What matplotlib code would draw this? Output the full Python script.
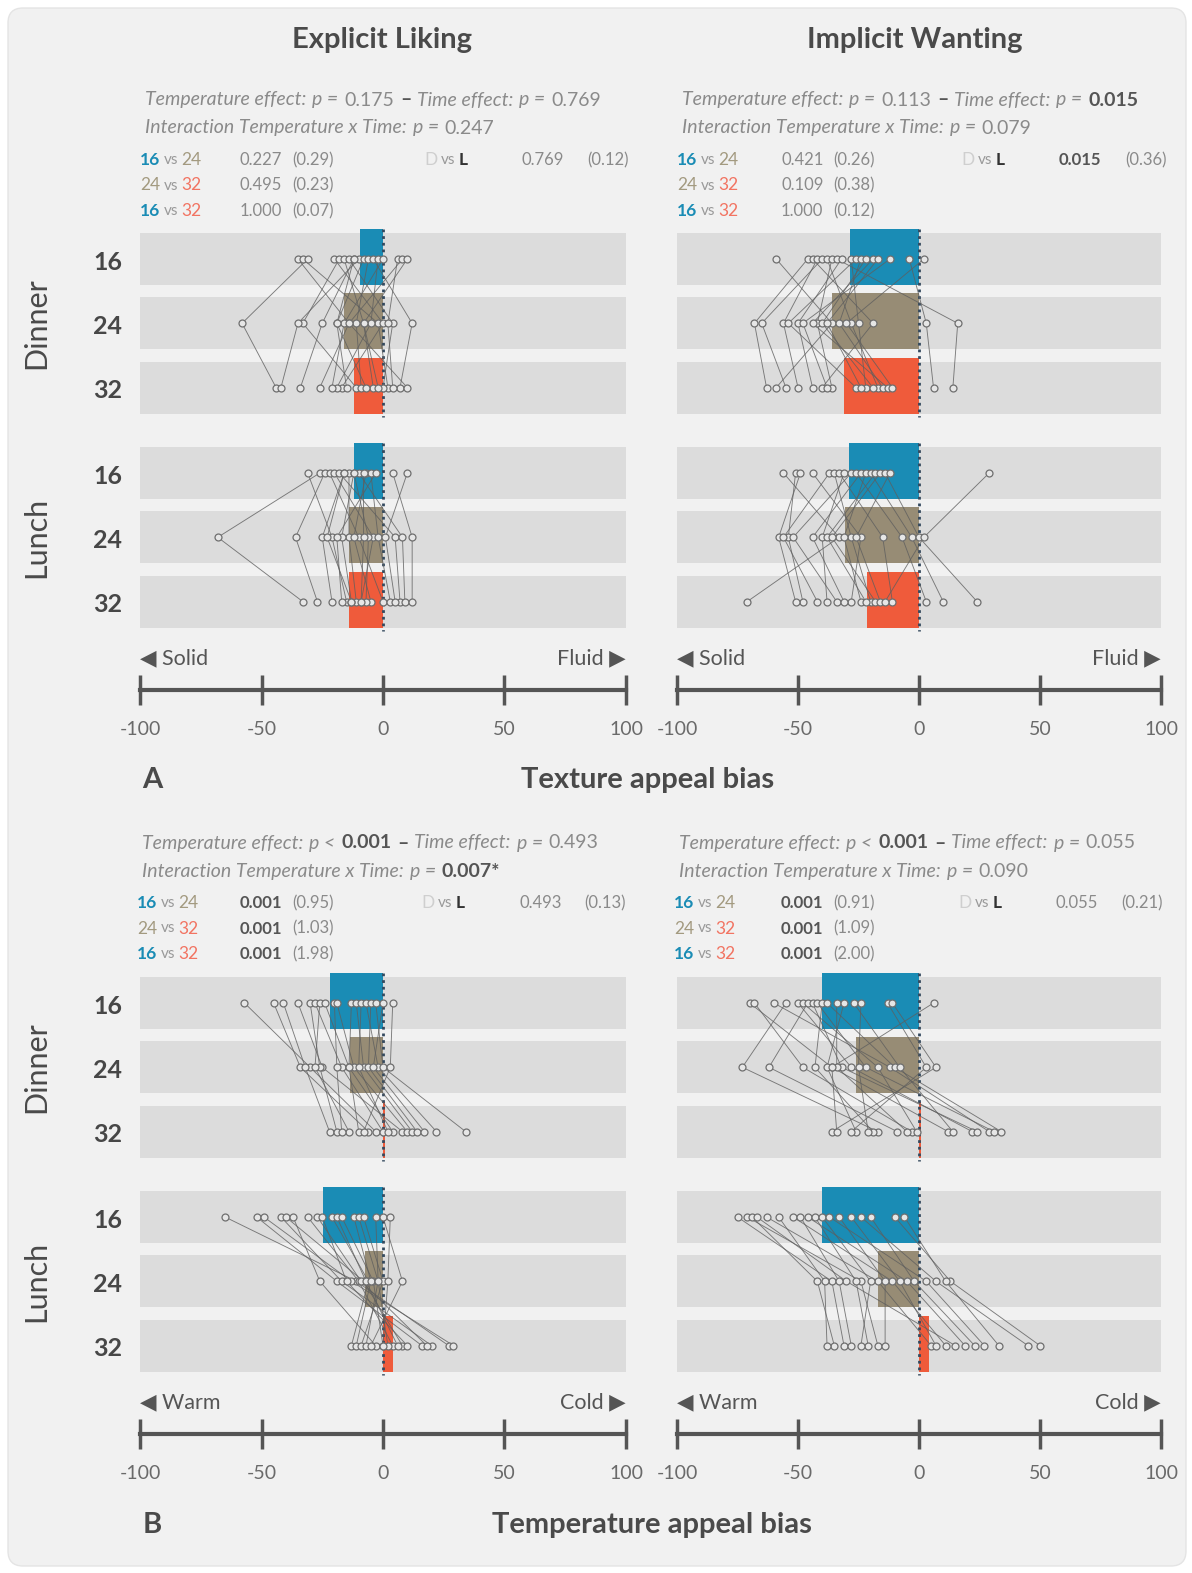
import numpy as np
import matplotlib
matplotlib.use("Agg")
import matplotlib.pyplot as plt
from matplotlib.patches import FancyBboxPatch

plt.rcParams['font.family'] = ['Lato', 'DejaVu Sans']

W, H = 1192, 1573

# Conditions ------------------------------------------------->>>>>
temps = ["16", "24", "32"]
times = ["Dinner", "Lunch"]
pairs = [(0, 1), (1, 2), (0, 2)]

# Texture appeal bias - explicit liking (rows: 16, 24, 32; columns: participants)
tex_like_dinner = [
    [-35, -33, -31, -20, -18, -16, -14, -12, -10, -8, -6, -4, -2, 0, 6, 8, 10, -12],
    [-14, -2, -58, 0, -33, -8, 4, -25, -35, -19, -11, 12, -5, -16, 2, -14, -8, -19],
    [-26, 2, -44, -17, -11, -4, 0, -34, -42, -15, -9, 7, -19, -21, 4, 10, -2, -7],
]
tex_like_lunch = [
    [-26, -31, -24, -22, -20, -18, -16, -14, -12, -10, -7, -5, -3, 4, 10, -12, -8, -16],
    [-68, -21, -36, -10, -4, 5, -25, -14, -17, 8, -12, -2, -19, 12, 1, -6, -8, -23],
    [-33, -15, -27, 0, -9, 7, -21, -11, -13, 9, -5, 3, -17, 12, 5, -7, -9, -13],
]
tex_like_mean_dinner = [-9.5, -16, -12]
tex_like_mean_lunch = [-12, -14, -14]

# Texture appeal bias - implicit wanting
tex_want_dinner = [
    [-59, -46, -44, -42, -40, -38, -36, -34, -32, -28, -26, -24, -22, -19, -17, -4, 2, -12],
    [-36, -68, -19, -56, -65, -28, -42, 16, -50, -25, -54, -33, -40, -44, -38, 3, -30, -48],
    [-59, -63, -40, -50, -55, -17, -36, 14, -44, -22, -26, -15, -19, -13, -24, 6, -11, -38],
]
tex_want_lunch = [
    [-56, -51, -49, -44, -37, -35, -33, -31, -28, -26, -24, -22, -20, -18, -16, -14, -12, 29],
    [-33, -54, -58, -24, -56, -28, -15, -40, -52, -7, -44, -31, -3, -38, -36, 0, -26, 2],
    [-71, -48, -51, -28, -42, -20, -11, -38, -34, 3, -31, -24, 10, -22, -18, 24, -16, -14],
]
tex_want_mean_dinner = [-28.5, -36, -31]
tex_want_mean_lunch = [-29, -30.5, -21.5]

# Temperature appeal bias - explicit liking
temp_like_dinner = [
    [-57, -45, -41, -35, -30, -28, -26, -24, -20, -19, -13, -11, -9, -7, -5, -3, 0, 4],
    [-30, -34, -32, -25, -26, -17, -28, -14, -19, -12, -14, -8, -10, -2, -6, 0, -4, 3],
    [-3, -6, -22, 8, -19, 0, -14, 4, -17, 10, -10, 12, 2, 22, 14, 34, 17, -8],
]
temp_like_lunch = [
    [-65, -52, -49, -42, -40, -37, -31, -27, -25, -21, -19, -17, -12, -10, -8, -3, 0, 3],
    [-11, -19, -13, -17, -8, -26, -10, -9, -15, -6, -7, -4, -5, -2, 0, -2, 8, 2],
    [27, 16, 29, 20, 8, -3, 4, 18, 10, -13, 6, 0, -11, 2, -9, -7, -5, 0],
]
temp_like_mean_dinner = [-22, -13.5, 1]
temp_like_mean_lunch = [-24.5, -7.5, 4]

# Temperature appeal bias - implicit wanting
temp_want_dinner = [
    [-70, -68, -60, -55, -50, -48, -46, -44, -42, -40, -38, -34, -31, -27, -24, -13, -11, 6],
    [-36, -48, -12, -73, -28, -17, -62, -32, -22, -43, -10, -34, -38, -8, -25, 3, 7, -36],
    [12, -3, 29, -17, 22, -1, -9, 24, 31, -19, 34, -5, -26, 14, -21, -28, -36, -34],
]
temp_want_lunch = [
    [-75, -71, -69, -67, -63, -58, -52, -49, -46, -43, -40, -37, -33, -28, -24, -20, -10, -6],
    [-36, -24, -42, -30, -17, -39, -11, -33, -5, -26, -20, 3, -14, -8, 7, -2, 13, 11],
    [-31, -17, -35, 15, 5, -38, 11, -28, 19, -21, -24, 27, -14, 7, 45, 23, 50, 33],
]
temp_want_mean_dinner = [-40, -26, 1]
temp_want_mean_lunch = [-40, -17, 4]

# Statistics: ANOVA (temperature, time, interaction) and post-hoc p (effect size)
tex_like_anova = [("=", 0.175), ("=", 0.769), ("=", 0.247)]
tex_like_post_p = [0.227, 0.495, 1.000]
tex_like_post_d = [0.29, 0.23, 0.07]
tex_like_time = (0.769, 0.12)

tex_want_anova = [("=", 0.113), ("=", 0.015), ("=", 0.079)]
tex_want_post_p = [0.421, 0.109, 1.000]
tex_want_post_d = [0.26, 0.38, 0.12]
tex_want_time = (0.015, 0.36)

temp_like_anova = [("<", 0.001), ("=", 0.493), ("=", 0.007)]
temp_like_post_p = [0.001, 0.001, 0.001]
temp_like_post_d = [0.95, 1.03, 1.98]
temp_like_time = (0.493, 0.13)

temp_want_anova = [("<", 0.001), ("=", 0.055), ("=", 0.090)]
temp_want_post_p = [0.001, 0.001, 0.001]
temp_want_post_d = [0.91, 1.09, 2.00]
temp_want_time = (0.055, 0.21)

# Style ------------------------------------------------------->>>>>
temp_cols = ['#1a8cb5', '#978c75', '#ef5b3b']
temp_txt = ['#1a8cb5', '#a39a80', '#f27462']
band_col = '#dcdcdc'
bg_col = '#f1f1f1'

band_h = 52
step = 64.3
group_off = 214
axis_off = 457

fig = plt.figure(figsize=(W / 100, H / 100), dpi=100, facecolor='white')
fig.patches.append(FancyBboxPatch((0.08, 0.07), 11.78, 15.58,
                                  boxstyle="round,pad=0,rounding_size=0.15",
                                  transform=fig.dpi_scale_trans,
                                  fc=bg_col, ec='#e4e4e4', lw=1, zorder=-10))
renderer = fig.canvas.get_renderer()


def ftext(x, y, s, **kw):
    return fig.text(x / W, 1 - y / H, s, **kw)


def runs(x, y, parts, size, gap=0.28):
    # draw pieces of text one after the other, each with its own style
    for s, kw in parts:
        opts = dict(fontsize=size, va='center', ha='left')
        opts.update(kw)
        t = ftext(x, y, s, **opts)
        x += t.get_window_extent(renderer).width + gap * size * 100 / 72
    return x


def draw_panel(x0, x1, top, dinner, lunch, mean_d, mean_l, words, label_rows):
    ax = fig.add_axes([x0 / W, 1 - (top + axis_off) / H, (x1 - x0) / W, (axis_off + 10) / H])
    ax.set_xlim(-100, 100)
    ax.set_ylim(top + axis_off, top - 10)
    ax.patch.set_alpha(0)
    for sp in ['top', 'left', 'right']:
        ax.spines[sp].set_visible(False)
    ax.spines['bottom'].set_color('#555555')
    ax.spines['bottom'].set_linewidth(3)
    ax.set_xticks([-100, -50, 0, 50, 100])
    ax.set_xticklabels(['-100', '-50', '0', '50', '100'])
    ax.tick_params(axis='x', direction='inout', length=22, width=2.5, color='#555555',
                   labelsize=14, labelcolor='#6a6a6a', pad=11)
    ax.set_yticks([])

    for g, (vals, means) in enumerate([(dinner, mean_d), (lunch, mean_l)]):
        gtop = top + g * group_off
        ys = [gtop + band_h / 2 + i * step for i in range(3)]
        for i, y in enumerate(ys):
            ax.axhspan(y - band_h / 2, y + band_h / 2, color=band_col, lw=0, zorder=1)
            ax.barh(y - 2, means[i], height=band_h + 4, left=0, color=temp_cols[i], lw=0,
                    zorder=2)
        ax.vlines(0, gtop - 4, ys[-1] + band_h / 2 + 3, colors='#34495e',
                  linestyles=(0, (1, 1.4)), lw=2, zorder=3)
        arr = np.array(vals, dtype=float)
        for k in range(arr.shape[1]):
            ax.plot(arr[:, k], ys, color='#5e5e5e', lw=0.65, alpha=0.8, zorder=4)
        for i, y in enumerate(ys):
            ax.plot(arr[i], [y] * arr.shape[1], 'o', ms=5, mfc='#e6e6e6', mec='#6e6e6e',
                    mew=0.9, zorder=5, clip_on=False)
        if label_rows:
            for i, y in enumerate(ys):
                ftext(108, y + 3, temps[i], fontsize=18, weight='bold', color='#474747',
                      ha='center', va='center')
            ftext(36, ys[1], times[g], fontsize=22, color='#4a4a4a', rotation=90,
                  ha='center', va='center')

    ax.text(-100, top + 425, "\u25c0 " + words[0], fontsize=15.5, color='#555555',
            ha='left', va='center')
    ax.text(100, top + 425, words[1] + " \u25b6", fontsize=15.5, color='#555555',
            ha='right', va='center')
    return ax


def fmt_p(p):
    return "%.3f" % p


def draw_stats(x, y, anova, post_p, post_d, time_pd, p_dx):
    gray = '#8a8a8a'
    it = dict(style='italic', color=gray)
    up = dict(color=gray)
    bold = dict(weight='bold', color='#555555')

    def pval(sign, p):
        txt = fmt_p(p) + ("*" if p < 0.01 and sign == "=" else "")
        return [("p %s" % sign, it), (txt, bold if p < 0.05 else up)]

    line1 = [("Temperature effect:", it)] + pval(*anova[0]) + [("\u2013", bold)] \
        + [("Time effect:", it)] + pval(*anova[1])
    runs(x + 5, y, line1, 14, gap=0.3)
    line2 = [("Interaction Temperature x Time:", it)] + pval(*anova[2])
    runs(x + 5, y + 28, line2, 14, gap=0.3)

    for r, (a, b) in enumerate(pairs):
        yy = y + 60 + r * 25.5
        runs(x, yy, [(temps[a], dict(color=temp_txt[a], weight='bold' if a == 0 else 'normal')),
                     ("vs", dict(color='#999999', fontsize=11)),
                     (temps[b], dict(color=temp_txt[b]))], 12.5, gap=0.2)
        p = post_p[r]
        runs(x + p_dx, yy, [(fmt_p(p), bold if p < 0.05 else up),
                            ("(%.2f)" % post_d[r], dict(color=gray))], 12, gap=0.6)

    yy = y + 60
    runs(x + 284, yy, [("D", dict(color='#cfcfcf')), ("vs", dict(color='#999999', fontsize=11)),
                       ("L", dict(color='#333333', weight='bold'))], 12.5, gap=0.2)
    p, d = time_pd
    runs(x + 382, yy, [(fmt_p(p), bold if p < 0.05 else up),
                       ("(%.2f)" % d, dict(color=gray))], 12, gap=1.4)


# Column titles
ftext(382, 40, "Explicit Liking", fontsize=21, weight='bold', color='#4a4a4a',
      ha='center', va='center')
ftext(915, 40, "Implicit Wanting", fontsize=21, weight='bold', color='#4a4a4a',
      ha='center', va='center')

# A: texture ---------------------------------------------------->>>>>
top_a = 233
draw_panel(140, 626, top_a, tex_like_dinner, tex_like_lunch,
           tex_like_mean_dinner, tex_like_mean_lunch, ("Solid", "Fluid"), True)
draw_panel(677, 1161, top_a, tex_want_dinner, tex_want_lunch,
           tex_want_mean_dinner, tex_want_mean_lunch, ("Solid", "Fluid"), False)
draw_stats(140, 100, tex_like_anova, tex_like_post_p, tex_like_post_d, tex_like_time, 100)
draw_stats(677, 100, tex_want_anova, tex_want_post_p, tex_want_post_d, tex_want_time, 104)
ftext(152, 780, "A", fontsize=21, weight='bold', color='#4a4a4a', ha='center', va='center')
ftext(648, 780, "Texture appeal bias", fontsize=21, weight='bold', color='#4a4a4a',
      ha='center', va='center')

# B: temperature ------------------------------------------------>>>>>
top_b = 977
draw_panel(140, 626, top_b, temp_like_dinner, temp_like_lunch,
           temp_like_mean_dinner, temp_like_mean_lunch, ("Warm", "Cold"), True)
draw_panel(677, 1161, top_b, temp_want_dinner, temp_want_lunch,
           temp_want_mean_dinner, temp_want_mean_lunch, ("Warm", "Cold"), False)
draw_stats(137, 843, temp_like_anova, temp_like_post_p, temp_like_post_d, temp_like_time, 103)
draw_stats(674, 843, temp_want_anova, temp_want_post_p, temp_want_post_d, temp_want_time, 107)
ftext(152, 1525, "B", fontsize=21, weight='bold', color='#4a4a4a', ha='center', va='center')
ftext(652, 1525, "Temperature appeal bias", fontsize=21, weight='bold', color='#4a4a4a',
      ha='center', va='center')

fig.savefig("out.png", dpi=100, facecolor='white')
